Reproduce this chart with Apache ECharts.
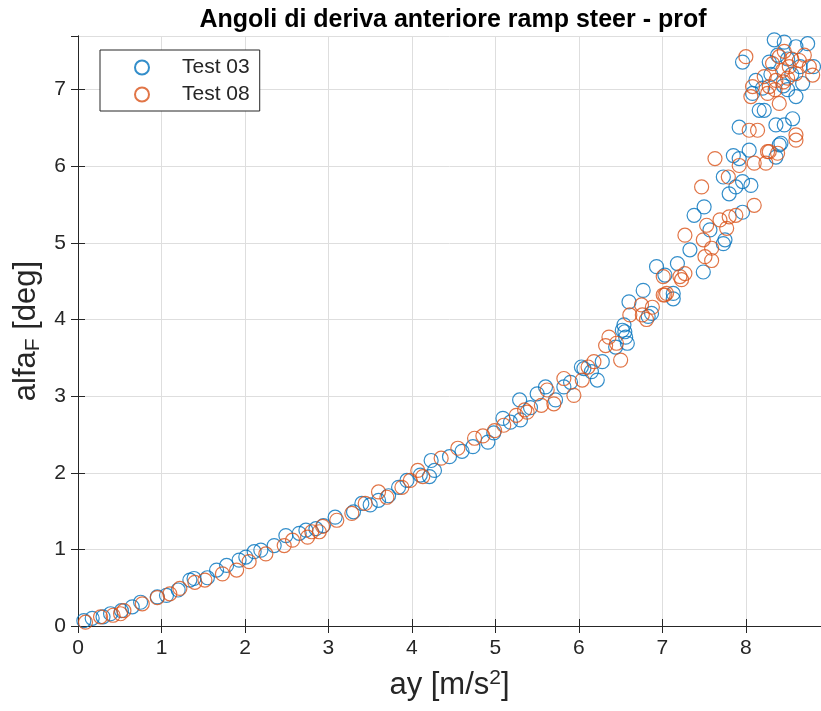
<!DOCTYPE html>
<html>
<head>
<meta charset="utf-8">
<script src="https://cdn.jsdelivr.net/npm/echarts@6/dist/echarts.min.js"></script>
<style>
  html, body { margin: 0; padding: 0; background: #ffffff; }
  #chart { width: 821px; height: 711px; }
</style>
</head>
<body>
<div id="chart"></div>
<script>
// Lateral acceleration ay [m/s^2] vs front slip angle alfa_F [deg]
const test03 = [
  [0.07,0.07],[0.17,0.10],[0.30,0.12],[0.39,0.16],[0.52,0.20],[0.65,0.25],[0.75,0.31],[0.95,0.38],
  [1.06,0.40],[1.20,0.47],[1.34,0.60],[1.39,0.62],[1.55,0.63],[1.66,0.73],[1.78,0.79],[1.93,0.86],
  [2.01,0.90],[2.11,0.97],[2.19,0.99],[2.35,1.05],[2.49,1.18],[2.65,1.21],[2.73,1.25],[2.85,1.27],
  [2.94,1.31],[3.08,1.42],[3.30,1.49],[3.40,1.60],[3.50,1.58],[3.60,1.64],[3.72,1.70],[3.84,1.81],
  [3.94,1.90],[4.10,1.97],[4.21,1.95],[4.27,2.03],[4.23,2.16],[4.45,2.21],[4.60,2.28],[4.73,2.34],
  [4.91,2.40],[4.98,2.52],[5.09,2.71],[5.18,2.66],[5.30,2.69],[5.29,2.95],[5.42,2.85],[5.50,3.03],
  [5.60,3.12],[5.72,2.95],[5.82,3.12],[5.90,3.18],[6.03,3.38],[6.06,3.36],[6.15,3.32],[6.22,3.21],
  [6.28,3.45],[6.44,3.64],[6.52,3.86],[6.55,3.84],[6.56,3.77],[6.58,3.69],[6.54,3.93],[6.60,4.23],
  [6.77,4.38],[6.83,4.04],[6.87,4.08],[6.93,4.69],[7.03,4.58],[7.13,4.27],[7.13,4.34],[7.18,4.73],
  [7.33,4.91],[7.38,5.36],[7.49,4.62],[7.50,5.47],[7.57,5.17],[7.73,4.99],[7.75,5.04],[7.73,5.86],
  [7.80,5.64],[7.88,5.73],[7.96,5.80],[8.06,5.75],[7.96,5.40],[7.85,6.14],[7.92,6.10],[8.04,6.21],
  [8.40,6.28],[8.36,6.12],[7.92,6.51],[8.36,6.54],[8.46,6.54],[8.56,6.62],[8.42,6.30],[8.16,6.73],
  [8.22,6.73],[8.08,6.95],[8.12,7.12],[8.60,6.91],[8.68,7.08],[7.96,7.36],[8.28,7.36],[8.34,7.65],
  [8.46,7.62],[8.60,7.56],[8.74,7.60],[8.81,7.30],[8.38,7.45],[8.50,7.40],[8.55,7.20],[8.45,7.05],
  [8.65,7.30],[8.30,7.20],[8.20,7.02],[8.50,7.00]
];
const test08 = [
  [0.09,0.05],[0.27,0.12],[0.42,0.14],[0.51,0.16],[0.55,0.20],[0.77,0.29],[0.95,0.37],[1.10,0.42],
  [1.22,0.49],[1.40,0.57],[1.52,0.60],[1.73,0.68],[1.90,0.73],[2.05,0.84],[2.25,0.94],[2.47,1.05],
  [2.57,1.12],[2.75,1.16],[2.80,1.23],[2.89,1.23],[2.93,1.30],[3.10,1.38],[3.28,1.47],[3.44,1.60],
  [3.60,1.75],[3.70,1.68],[3.88,1.81],[3.98,1.90],[4.07,2.03],[4.13,1.95],[4.35,2.19],[4.55,2.32],
  [4.75,2.45],[4.85,2.48],[4.99,2.55],[5.10,2.62],[5.25,2.75],[5.35,2.82],[5.38,2.79],[5.55,2.88],
  [5.62,3.08],[5.70,2.90],[5.82,3.23],[5.94,3.01],[6.04,3.21],[6.11,3.38],[6.18,3.45],[6.32,3.66],
  [6.36,3.77],[6.45,3.69],[6.50,3.47],[6.61,4.06],[6.75,4.19],[6.76,4.06],[6.81,4.00],[6.88,4.16],
  [7.01,4.32],[7.03,4.32],[7.05,4.34],[7.01,4.56],[7.21,4.56],[7.23,4.52],[7.27,4.60],[7.27,5.10],
  [7.49,5.04],[7.51,4.82],[7.53,5.23],[7.59,4.93],[7.59,4.77],[7.69,5.30],[7.77,5.19],[7.80,5.34],
  [7.88,5.36],[8.10,5.49],[7.47,5.73],[7.79,5.86],[7.63,6.10],[7.92,6.01],[8.10,6.04],[8.24,6.04],
  [8.28,6.19],[8.60,6.34],[8.26,6.19],[8.38,6.17],[8.04,6.47],[8.14,6.47],[8.60,6.41],[8.00,7.43],
  [8.08,7.04],[8.06,6.91],[8.40,6.82],[8.36,7.12],[8.44,7.25],[8.52,7.30],[8.60,7.21],[8.32,7.34],
  [8.40,7.43],[8.46,7.50],[8.28,7.04],[8.64,7.38],[8.76,7.30],[8.80,7.19],[8.22,7.17],[8.26,6.95],
  [8.35,7.00],[8.50,7.15],[8.55,7.40],[8.45,7.10],[8.70,7.45]
];
const seriesNames = ['Test 03', 'Test 08'];
const xRange = [0, 8.9];
const yRange = [0, 7.7];
const tickStep = 1;

const FONT = "'Liberation Sans', Arial, Helvetica, sans-serif";
const INK = '#262626';
const GRID = '#dedede';
const BLUE = '#0072BD';
const ORANGE = '#D95319';

function ringSeries(name, data, color) {
  return {
    name: name,
    type: 'scatter',
    data: data,
    symbol: 'circle',
    symbolSize: 14,
    silent: true,
    itemStyle: { color: 'rgba(0,0,0,0)', borderColor: color, borderWidth: 1.2 },
    emphasis: { disabled: true }
  };
}

const labelStyle = { color: INK, fontSize: 21, fontFamily: FONT };
const nameRich = {
  a: { fontFamily: FONT, fontSize: 31, color: INK },
  sup: { fontFamily: FONT, fontSize: 21, color: INK, padding: [0, 0, 14, 0] },
  sub: { fontFamily: FONT, fontSize: 21, color: INK, padding: [13, 0, 0, 0] }
};

const chart = echarts.init(document.getElementById('chart'), null, { renderer: 'canvas' });
chart.setOption({
  animation: false,
  backgroundColor: '#ffffff',
  title: {
    text: 'Angoli di deriva anteriore ramp steer - prof',
    left: 448,
    textAlign: 'center',
    top: 3,
    textStyle: { fontFamily: FONT, fontSize: 25, fontWeight: 'bold', color: '#000000' }
  },
  grid: { left: 78, top: 36, width: 748, height: 590, show: false },
  legend: {
    data: seriesNames,
    orient: 'vertical',
    left: 100,
    top: 50,
    itemWidth: 14,
    itemHeight: 14,
    itemGap: 6,
    padding: [7, 10, 6, 34],
    borderColor: INK,
    borderWidth: 1,
    backgroundColor: '#ffffff',
    textStyle: { fontFamily: FONT, fontSize: 21, color: INK, padding: [0, 0, 0, 28] }
  },
  xAxis: [
    {
      type: 'value', min: xRange[0], max: xRange[1], interval: tickStep, position: 'bottom',
      name: '{a|ay [m/s}{sup|2}{a|]}', nameLocation: 'middle', nameGap: 42,
      nameTextStyle: { rich: nameRich },
      axisLine: { show: true, lineStyle: { color: INK, width: 1 } },
      axisTick: { show: true, inside: true, length: 7, lineStyle: { color: INK } },
      axisLabel: Object.assign({ margin: 12, showMaxLabel: false }, labelStyle),
      splitLine: { show: true, lineStyle: { color: GRID, width: 1 } }
    },
    {
      type: 'value', min: xRange[0], max: xRange[1], interval: tickStep, position: 'top',
      axisLine: { show: true, lineStyle: { color: INK, width: 1 } },
      axisTick: { show: true, inside: true, length: 7, lineStyle: { color: INK } },
      axisLabel: { show: false },
      splitLine: { show: false }
    }
  ],
  yAxis: [
    {
      type: 'value', min: yRange[0], max: yRange[1], interval: tickStep, position: 'left',
      name: '{a|alfa}{sub|F}{a| [deg]}', nameLocation: 'middle', nameGap: 31,
      nameTextStyle: { rich: nameRich },
      axisLine: { show: true, lineStyle: { color: INK, width: 1 } },
      axisTick: { show: true, inside: true, length: 7, lineStyle: { color: INK } },
      axisLabel: Object.assign({ margin: 12, showMaxLabel: false }, labelStyle),
      splitLine: { show: true, lineStyle: { color: GRID, width: 1 } }
    },
    {
      type: 'value', min: yRange[0], max: yRange[1], interval: tickStep, position: 'right',
      axisLine: { show: true, lineStyle: { color: INK, width: 1 } },
      axisTick: { show: true, inside: true, length: 7, lineStyle: { color: INK } },
      axisLabel: { show: false },
      splitLine: { show: false }
    }
  ],
  series: [
    ringSeries(seriesNames[0], test03, BLUE),
    ringSeries(seriesNames[1], test08, ORANGE)
  ]
});
</script>
</body>
</html>
